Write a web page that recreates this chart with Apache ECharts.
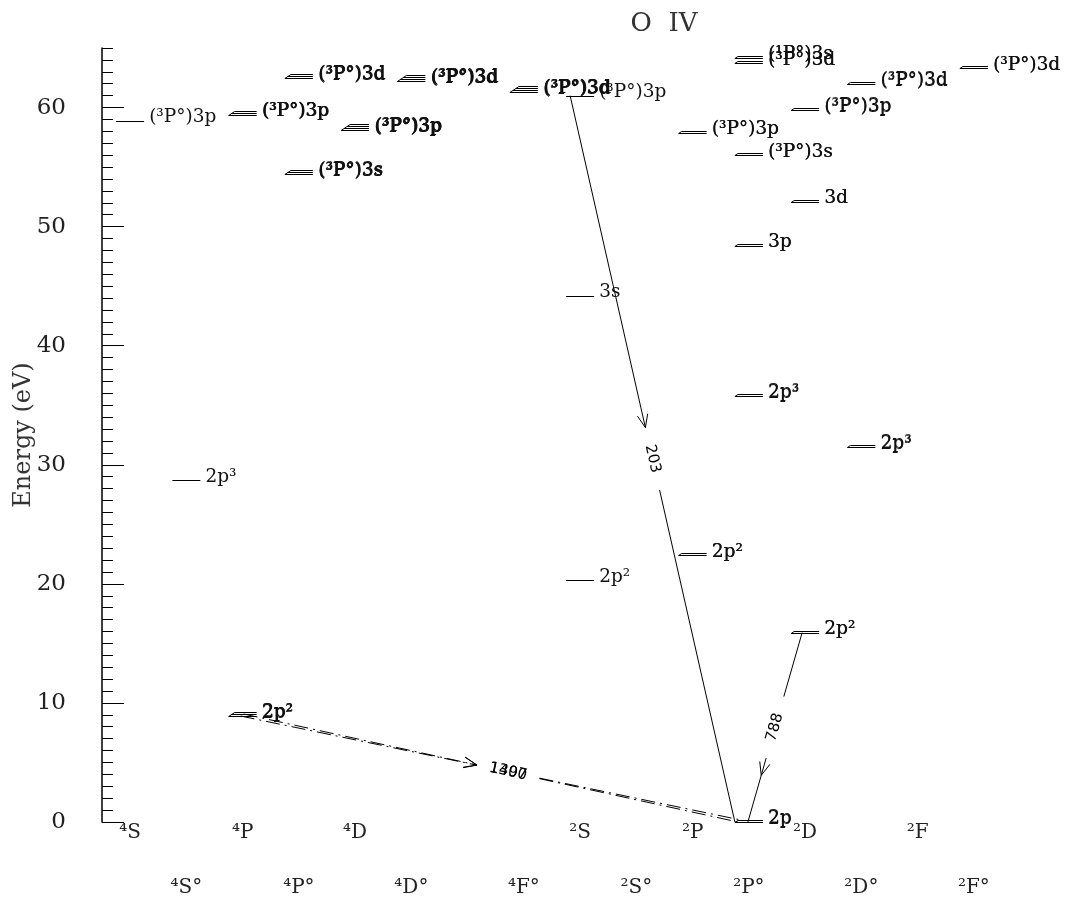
<!DOCTYPE html>
<html>
<head>
<meta charset="utf-8">
<script src="https://cdn.jsdelivr.net/npm/echarts@6/dist/echarts.min.js"></script>
<style>
  html, body { margin: 0; padding: 0; background: #fff; }
  #chart { width: 1069px; height: 906px; }
</style>
</head>
<body>
<div id="chart"></div>
<script>
// Term columns (x axis), in order; 4F has no printed label
const terms = ['⁴S', '⁴S°', '⁴P', '⁴P°', '⁴D', '⁴D°', '⁴F', '⁴F°',
               '²S', '²S°', '²P', '²P°', '²D', '²D°', '²F', '²F°'];
const termShown = [1, 1, 1, 1, 1, 1, 0, 1, 1, 1, 1, 1, 1, 1, 1, 1];

// Energy levels of O IV: term column, energy (eV), number of fine-structure sublevels, configuration
const levelTerm   = [0, 1, 2, 2, 3, 3, 4, 5, 7, 8, 8, 8, 10, 10, 11, 11, 11, 11, 11, 11, 12, 12, 12, 13, 13, 15];
const levelEnergy = [58.9, 28.7, 8.9, 59.4, 54.4, 62.5, 58.1, 62.2, 61.3, 20.3, 44.2, 61.0, 22.4, 57.9,
                     0.0, 35.8, 48.4, 56.0, 63.7, 64.2, 15.9, 52.1, 59.8, 31.5, 62.0, 63.3];
const levelSub    = [1, 1, 3, 3, 3, 3, 4, 4, 4, 1, 1, 1, 2, 2, 2, 2, 2, 2, 2, 2, 2, 2, 2, 2, 2, 2];
const levelName   = ['(³P°)3p', '2p³', '2p²', '(³P°)3p', '(³P°)3s', '(³P°)3d', '(³P°)3p', '(³P°)3d',
                     '(³P°)3d', '2p²', '3s', '(³P°)3p', '2p²', '(³P°)3p', '2p', '2p³', '3p', '(³P°)3s',
                     '(³P°)3d', '(¹P°)3s', '2p²', '3d', '(³P°)3p', '2p³', '(³P°)3d', '(³P°)3d'];

// Transitions: upper level, lower level, sublevels used, wavelength (Å)
const lineUpper      = [11, 20, 2, 2];
const lineLower      = [14, 14, 14, 14];
const lineUpperSub   = [0, 0, 0, 1];
const lineLowerSub   = [0, 0, 1, 0];
const lineWavelength = ['203', '788', '1397', '1400'];

// Drawing style for the transitions (pixel anchors along the level bars, dash, arrow placement)
const lineAnchor   = [[-10, -14], [-3, -1], [-2, -11], [-2, -11]];
const lineDashed   = [false, false, true, true];
const arrowAfter   = [false, true, false, false];
const labelFrac    = [0.5, 0.5, 0.535, 0.535];

const HALF = 14;      // half width of a level bar
const SUB_DX = 3;     // left-end stagger between sublevel bars
const SUB_DY = 2;     // vertical spacing between sublevel bars
const LABEL_DX = 19;  // level label offset from bar centre
const FONT_SERIF = 'DejaVu Serif';

function crisp(v) { return Math.round(v) + 0.5; }

function renderLevel(params, api) {
  const i = api.value(2);
  const p = api.coord([api.value(0), api.value(1)]);
  const n = levelSub[i];
  const y0 = crisp(p[1]);
  const children = [];
  for (let k = 0; k < n; k++) {
    const y = y0 - k * SUB_DY;
    children.push({
      type: 'line',
      shape: { x1: p[0] - HALF + k * SUB_DX, y1: y, x2: p[0] + HALF, y2: y },
      style: { stroke: '#000', lineWidth: 1 }
    });
  }
  if (n > 1) {
    children.push({
      type: 'line',
      shape: { x1: p[0] - HALF, y1: y0, x2: p[0] - HALF + (n - 1) * SUB_DX, y2: y0 - (n - 1) * SUB_DY },
      style: { stroke: '#000', lineWidth: 1 }
    });
  }
  // one label per sublevel, nearly on top of each other
  for (let k = 0; k < n; k++) {
    children.push({
      type: 'text',
      x: p[0] + LABEL_DX + k * 0.4,
      y: p[1] - 3 - k * 0.4,
      style: {
        text: levelName[i], fill: '#111',
        font: '18.5px "' + FONT_SERIF + '"',
        align: 'left', verticalAlign: 'middle'
      }
    });
  }
  return { type: 'group', children: children };
}

function renderTransition(params, api) {
  const t = api.value(2);
  const up = lineUpper[t], lo = lineLower[t];
  const pu = api.coord([levelTerm[up], levelEnergy[up]]);
  const pl = api.coord([levelTerm[lo], levelEnergy[lo]]);
  const a = lineAnchor[t];
  const x0 = pu[0] + a[0] + lineUpperSub[t] * SUB_DX, y0 = pu[1] - lineUpperSub[t] * SUB_DY;
  const x1 = pl[0] + a[1] + lineLowerSub[t] * SUB_DX, y1 = pl[1] - lineLowerSub[t] * SUB_DY;
  const dx = x1 - x0, dy = y1 - y0;
  const L = Math.sqrt(dx * dx + dy * dy);
  const ux = dx / L, uy = dy / L;
  const f = labelFrac[t];
  const cx = x0 + dx * f, cy = y0 + dy * f;
  const gap = 64;
  const g0 = [cx - ux * gap / 2, cy - uy * gap / 2];
  const g1 = [cx + ux * gap / 2, cy + uy * gap / 2];
  const lineStyle = { stroke: '#000', lineWidth: 1, lineDash: lineDashed[t] ? [14, 5, 2, 5] : null };
  const tip = arrowAfter[t] ? [g1[0] + ux * 18, g1[1] + uy * 18] : g0;
  const th = 22 * Math.PI / 180, al = 14;
  const bx = -ux, by = -uy;
  const r1 = [bx * Math.cos(th) - by * Math.sin(th), bx * Math.sin(th) + by * Math.cos(th)];
  const r2 = [bx * Math.cos(-th) - by * Math.sin(-th), bx * Math.sin(-th) + by * Math.cos(-th)];
  let ang = Math.atan2(uy, ux);
  if (ang > Math.PI / 2) ang -= Math.PI;
  if (ang < -Math.PI / 2) ang += Math.PI;
  return {
    type: 'group',
    children: [
      { type: 'line', shape: { x1: x0, y1: y0, x2: g0[0], y2: g0[1] }, style: lineStyle },
      { type: 'line', shape: { x1: g1[0], y1: g1[1], x2: x1, y2: y1 }, style: lineStyle },
      {
        type: 'polyline',
        shape: { points: [[tip[0] + r1[0] * al, tip[1] + r1[1] * al], tip, [tip[0] + r2[0] * al, tip[1] + r2[1] * al]] },
        style: { stroke: '#000', lineWidth: 1, fill: null }
      },
      {
        type: 'text', x: cx, y: cy, rotation: -ang,
        style: {
          text: lineWavelength[t], fill: '#000',
          font: '15px "DejaVu Sans"', align: 'center', verticalAlign: 'middle'
        }
      }
    ]
  };
}

const chart = echarts.init(document.getElementById('chart'));

const termAxisBase = {
  type: 'category',
  data: terms,
  position: 'bottom',
  boundaryGap: true,
  axisLine: { show: false },
  axisTick: { show: false },
  splitLine: { show: false }
};

chart.setOption({
  animation: false,
  backgroundColor: '#fff',
  title: {
    text: 'O  IV',
    left: 659, top: 6, textAlign: 'center',
    textStyle: { fontFamily: FONT_SERIF, fontSize: 26, fontWeight: 'normal', color: '#333' }
  },
  grid: { left: 102, right: 67, top: 48, bottom: 84, containLabel: false, outerBoundsMode: 'none' },
  xAxis: [
    Object.assign({}, termAxisBase, {
      axisLabel: {
        interval: 0, margin: 1, fontFamily: FONT_SERIF, fontSize: 20, color: '#222',
        formatter: (v, i) => (i % 2 === 0 && termShown[i]) ? v : ''
      }
    }),
    Object.assign({}, termAxisBase, {
      axisLabel: {
        interval: 0, margin: 56, fontFamily: FONT_SERIF, fontSize: 20, color: '#222',
        formatter: (v, i) => (i % 2 === 1 && termShown[i]) ? v : ''
      }
    })
  ],
  yAxis: [
    {
      // fine ticks, one per eV
      type: 'value', min: 0, max: 65, interval: 1, position: 'left',
      axisLine: { show: true, lineStyle: { color: '#000', width: 1.5 } },
      axisTick: { show: true, inside: true, length: 11, lineStyle: { color: '#000', width: 1 } },
      axisLabel: { show: false },
      splitLine: { show: false }
    },
    {
      // major ticks and labels every 10 eV
      type: 'value', min: 0, max: 65, interval: 10, position: 'left',
      name: 'Energy (eV)', nameLocation: 'middle', nameGap: 66, nameMoveOverlap: false,
      nameTextStyle: { fontFamily: FONT_SERIF, fontSize: 24, color: '#333' },
      axisLine: { show: false },
      axisTick: { show: true, inside: true, length: 22, lineStyle: { color: '#000', width: 1 },
                  customValues: [0, 10, 20, 30, 40, 50, 60] },
      axisLabel: { margin: 36, fontFamily: FONT_SERIF, fontSize: 23, color: '#222',
                   customValues: [0, 10, 20, 30, 40, 50, 60] },
      splitLine: { show: false }
    }
  ],
  series: [
    {
      type: 'custom',
      name: 'transitions',
      xAxisIndex: 0, yAxisIndex: 0,
      clip: false,
      encode: { x: 0, y: 1 },
      renderItem: renderTransition,
      data: lineWavelength.map((w, t) => [levelTerm[lineUpper[t]], levelEnergy[lineUpper[t]], t]),
      z: 2
    },
    {
      type: 'custom',
      name: 'levels',
      xAxisIndex: 0, yAxisIndex: 0,
      clip: false,
      encode: { x: 0, y: 1 },
      renderItem: renderLevel,
      data: levelEnergy.map((e, i) => [levelTerm[i], e, i]),
      z: 3
    }
  ]
});
</script>
</body>
</html>
